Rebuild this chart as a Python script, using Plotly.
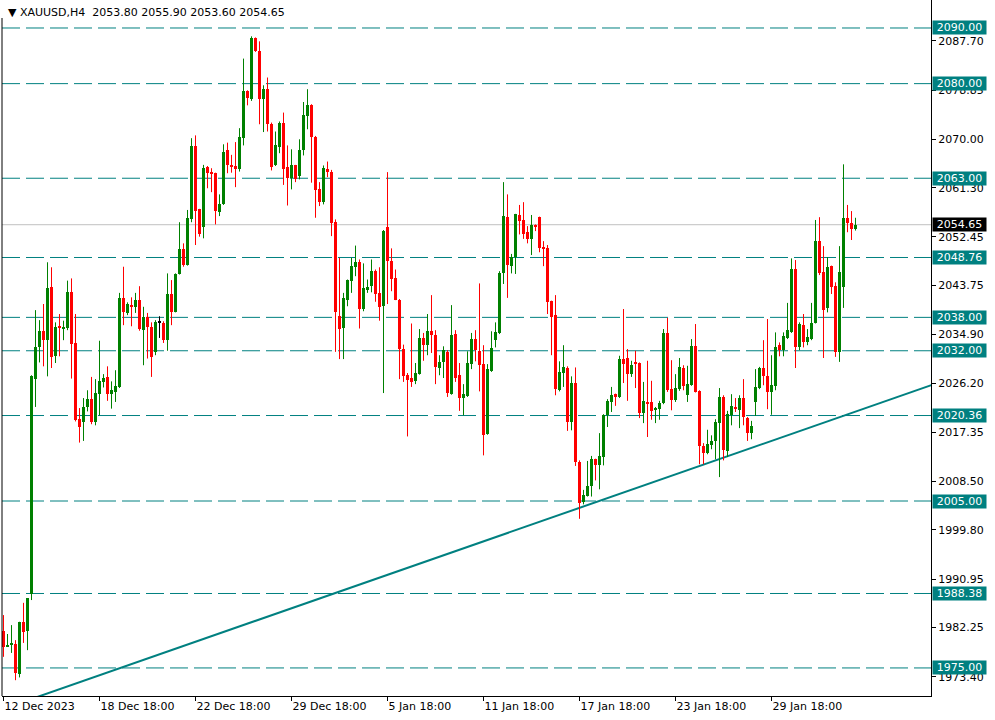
import plotly.graph_objects as go

# ---------------- data (XAUUSD H4) ----------------
opens = [1981.7, 1978.9, 1979.3, 1979.3, 1973.9, 1983.2, 1981.7, 1988.3, 2027.0, 2032.7,
         2035.5, 2034.0, 2043.4, 2031.1, 2036.3, 2036.0, 2036.1, 2042.6, 2033.4, 2019.7,
         2019.2, 2021.9, 2023.3, 2019.2, 2024.3, 2026.4, 2027.3, 2024.3, 2024.6, 2025.5,
         2041.5, 2038.8, 2040.2, 2039.9, 2041.1, 2035.8, 2038.0, 2036.2, 2031.8, 2037.0,
         2037.0, 2033.9, 2042.2, 2039.0, 2045.8, 2050.2, 2047.4, 2055.7, 2068.8, 2057.4,
         2054.3, 2065.0, 2064.2, 2063.9, 2056.9, 2058.3, 2068.0, 2065.4, 2065.2, 2064.6,
         2070.2, 2078.6, 2077.3, 2088.2, 2085.8, 2077.2, 2079.0, 2072.8, 2065.3, 2068.6,
         2072.9, 2065.0, 2063.0, 2065.3, 2063.4, 2068.0, 2074.2, 2076.1, 2070.5, 2061.0,
         2058.7, 2064.6, 2064.2, 2055.1, 2038.2, 2036.1, 2041.2, 2044.5, 2047.1, 2047.9,
         2039.5, 2043.0, 2043.6, 2046.3, 2042.3, 2040.0, 2054.2, 2048.2, 2045.1, 2041.2,
         2032.3, 2027.6, 2027.1, 2026.6, 2027.8, 2034.3, 2033.0, 2035.5, 2034.8, 2028.9,
         2030.0, 2031.8, 2024.2, 2035.0, 2027.6, 2023.5, 2023.8, 2029.6, 2034.1, 2031.9,
         2029.6, 2017.0, 2028.3, 2033.9, 2035.2, 2045.9, 2056.0, 2047.2, 2048.8, 2056.4,
         2055.5, 2053.3, 2052.1, 2054.6, 2056.0, 2050.6, 2050.4, 2040.9, 2038.4, 2024.9,
         2028.0, 2028.9, 2019.2, 2026.2, 2012.0, 2004.9, 2005.9, 2007.7, 2012.5, 2011.4,
         2012.9, 2020.4, 2022.8, 2024.2, 2023.7, 2030.5, 2030.7, 2027.8, 2030.0, 2029.8,
         2020.8, 2022.8, 2022.8, 2021.5, 2021.5, 2022.6, 2035.2, 2025.1, 2023.1, 2025.1,
         2028.9, 2024.0, 2025.8, 2032.8, 2024.8, 2014.9, 2013.6, 2015.0, 2015.8, 2019.0,
         2023.7, 2014.0, 2020.4, 2021.9, 2021.3, 2023.5, 2019.9, 2017.2, 2022.8, 2025.3,
         2028.9, 2027.4, 2024.6, 2025.6, 2033.0, 2032.1, 2034.3, 2035.3, 2046.7, 2032.6,
         2036.6, 2033.5, 2034.1, 2037.0, 2051.7, 2046.1, 2039.7, 2047.2, 2043.6, 2031.7,
         2043.4, 2055.8, 2054.9, 2053.80]
highs = [1984.5, 1981.1, 1982.7, 1980.0, 1983.3, 1986.7, 1987.5, 2027.6, 2039.3, 2037.5,
         2040.4, 2047.9, 2047.0, 2037.1, 2038.6, 2037.4, 2044.6, 2045.0, 2038.6, 2021.7,
         2023.5, 2024.9, 2027.3, 2026.9, 2033.8, 2027.8, 2029.2, 2026.5, 2028.5, 2042.4,
         2047.1, 2040.7, 2041.6, 2042.4, 2043.6, 2039.9, 2038.8, 2037.1, 2037.5, 2038.2,
         2037.3, 2045.9, 2044.7, 2045.9, 2055.1, 2051.3, 2057.3, 2070.2, 2070.7, 2057.5,
         2065.4, 2065.2, 2064.8, 2064.0, 2060.1, 2069.1, 2069.4, 2067.2, 2069.5, 2072.0,
         2084.5, 2078.8, 2088.5, 2088.3, 2087.6, 2079.7, 2081.1, 2073.0, 2071.4, 2073.2,
         2074.8, 2068.9, 2068.2, 2065.4, 2070.0, 2076.7, 2079.0, 2076.3, 2070.6, 2062.3,
         2065.3, 2066.0, 2064.5, 2055.6, 2048.7, 2042.4, 2044.8, 2048.7, 2050.9, 2048.4,
         2047.7, 2044.8, 2048.4, 2046.6, 2047.0, 2053.7, 2064.1, 2050.4, 2046.6, 2041.3,
         2033.1, 2028.0, 2036.9, 2029.8, 2035.9, 2035.2, 2038.6, 2042.0, 2035.7, 2031.2,
         2032.8, 2032.1, 2040.2, 2035.7, 2029.8, 2026.0, 2031.9, 2035.2, 2035.7, 2044.1,
         2033.0, 2029.6, 2035.5, 2037.1, 2046.3, 2062.3, 2060.1, 2049.4, 2056.6, 2058.2,
         2058.7, 2054.4, 2056.4, 2054.7, 2056.1, 2051.7, 2051.0, 2041.0, 2042.0, 2030.1,
         2033.0, 2029.2, 2027.4, 2029.0, 2012.3, 2007.0, 2012.2, 2013.1, 2012.6, 2017.2,
         2020.6, 2023.3, 2025.5, 2024.3, 2031.1, 2039.5, 2032.3, 2030.2, 2032.0, 2029.9,
         2026.4, 2030.2, 2026.6, 2021.9, 2023.0, 2035.9, 2037.9, 2030.3, 2027.8, 2030.7,
         2029.4, 2029.3, 2034.1, 2036.8, 2024.9, 2015.4, 2017.8, 2016.8, 2019.7, 2025.3,
         2024.0, 2021.2, 2024.2, 2023.5, 2024.0, 2026.9, 2020.1, 2019.4, 2028.7, 2029.1,
         2033.9, 2037.7, 2031.2, 2035.3, 2033.5, 2035.3, 2040.6, 2048.6, 2048.3, 2037.1,
         2038.6, 2035.9, 2040.6, 2055.5, 2056.0, 2050.8, 2048.8, 2047.3, 2044.3, 2050.8,
         2065.5, 2058.2, 2057.1, 2055.90]
lows = [1977.0, 1978.8, 1977.7, 1972.8, 1973.3, 1979.5, 1978.2, 1987.2, 2021.9, 2029.9,
        2029.2, 2027.4, 2028.9, 2029.8, 2031.0, 2033.9, 2035.7, 2027.0, 2019.3, 2015.5,
        2015.8, 2021.1, 2018.8, 2018.6, 2020.4, 2025.4, 2023.0, 2021.6, 2022.8, 2025.3,
        2036.6, 2038.4, 2036.4, 2038.8, 2035.6, 2029.4, 2030.6, 2027.3, 2031.2, 2034.3,
        2033.4, 2032.0, 2036.6, 2038.9, 2045.7, 2047.1, 2047.3, 2055.1, 2051.0, 2052.5,
        2052.2, 2061.2, 2060.5, 2054.7, 2056.2, 2058.2, 2063.9, 2064.0, 2061.4, 2064.2,
        2068.9, 2076.1, 2076.9, 2085.7, 2072.7, 2071.3, 2071.4, 2064.4, 2065.2, 2067.5,
        2061.8, 2058.1, 2061.0, 2062.3, 2062.8, 2067.1, 2071.8, 2062.2, 2055.9, 2058.0,
        2058.3, 2063.2, 2052.6, 2031.8, 2030.5, 2030.5, 2040.0, 2042.4, 2045.4, 2036.0,
        2039.1, 2042.4, 2042.5, 2040.8, 2037.4, 2024.4, 2040.4, 2042.7, 2041.1, 2026.9,
        2026.4, 2016.6, 2025.5, 2026.0, 2027.7, 2030.2, 2031.2, 2031.6, 2026.0, 2027.6,
        2027.1, 2023.7, 2024.1, 2026.4, 2021.2, 2020.4, 2023.7, 2028.7, 2030.1, 2024.7,
        2013.2, 2016.9, 2028.2, 2032.6, 2035.0, 2044.0, 2041.5, 2045.9, 2045.8, 2052.9,
        2052.1, 2051.3, 2049.2, 2053.5, 2049.7, 2047.2, 2038.6, 2031.2, 2024.0, 2024.7,
        2025.5, 2017.6, 2017.7, 2011.3, 2001.8, 2004.4, 2005.8, 2005.8, 2008.7, 2007.1,
        2011.4, 2018.3, 2021.0, 2022.1, 2023.5, 2026.2, 2023.0, 2027.3, 2025.3, 2019.9,
        2019.0, 2016.5, 2019.6, 2019.0, 2019.6, 2022.4, 2024.6, 2021.3, 2022.8, 2024.8,
        2024.9, 2022.8, 2025.7, 2024.5, 2011.6, 2011.6, 2013.4, 2014.3, 2012.5, 2009.3,
        2012.3, 2012.9, 2018.6, 2021.0, 2018.1, 2018.6, 2015.8, 2016.1, 2020.3, 2025.1,
        2025.8, 2021.5, 2020.5, 2024.9, 2031.0, 2031.0, 2034.1, 2035.2, 2028.9, 2032.1,
        2032.6, 2033.0, 2033.9, 2036.9, 2045.6, 2030.7, 2038.9, 2042.2, 2030.9, 2030.0,
        2039.7, 2053.3, 2051.9, 2053.60]
closes = [1978.8, 1979.1, 1979.4, 1974.1, 1983.2, 1981.5, 1987.5, 2027.4, 2032.6, 2035.5,
          2034.0, 2043.2, 2030.9, 2036.2, 2036.1, 2036.2, 2042.6, 2033.2, 2019.5, 2018.3,
          2021.9, 2023.3, 2019.2, 2024.4, 2026.5, 2027.1, 2024.3, 2024.9, 2025.6, 2041.5,
          2038.9, 2040.4, 2039.9, 2041.1, 2035.9, 2038.0, 2036.3, 2030.9, 2037.1, 2037.0,
          2033.9, 2042.2, 2039.0, 2045.8, 2050.2, 2047.4, 2055.8, 2068.8, 2057.1, 2053.0,
          2064.8, 2064.0, 2063.7, 2057.1, 2058.3, 2067.8, 2065.4, 2065.0, 2064.7, 2070.4,
          2078.6, 2077.4, 2088.2, 2085.9, 2077.2, 2079.0, 2072.8, 2065.1, 2068.9, 2072.9,
          2064.6, 2063.0, 2065.3, 2062.8, 2068.0, 2074.3, 2076.1, 2070.4, 2060.8, 2058.7,
          2064.8, 2064.1, 2055.0, 2039.0, 2035.9, 2041.4, 2044.7, 2047.2, 2047.9, 2039.5,
          2043.2, 2043.4, 2046.3, 2042.2, 2039.9, 2053.6, 2048.1, 2044.9, 2041.2, 2032.3,
          2027.5, 2026.7, 2026.4, 2028.0, 2034.3, 2033.0, 2035.5, 2034.8, 2029.1, 2030.0,
          2032.1, 2024.4, 2034.8, 2027.1, 2023.5, 2024.2, 2029.8, 2034.1, 2032.1, 2029.4,
          2016.8, 2028.7, 2032.5, 2035.3, 2045.9, 2056.2, 2047.4, 2048.8, 2056.5, 2055.3,
          2052.9, 2052.1, 2054.6, 2054.2, 2050.4, 2050.3, 2040.7, 2038.0, 2025.1, 2028.2,
          2029.0, 2019.2, 2026.2, 2012.0, 2004.7, 2006.1, 2007.7, 2012.5, 2011.4, 2013.1,
          2020.4, 2022.9, 2024.0, 2023.7, 2030.5, 2029.6, 2027.8, 2029.4, 2029.6, 2020.8,
          2023.0, 2022.6, 2021.2, 2021.7, 2022.6, 2035.2, 2024.9, 2023.1, 2025.3, 2029.1,
          2025.7, 2026.0, 2032.8, 2024.6, 2014.9, 2013.6, 2015.2, 2015.8, 2019.2, 2023.7,
          2014.1, 2020.6, 2022.0, 2021.5, 2023.5, 2020.1, 2017.2, 2018.5, 2025.5, 2028.9,
          2027.4, 2024.6, 2025.8, 2032.6, 2032.1, 2034.6, 2035.7, 2046.7, 2032.6, 2036.8,
          2033.5, 2034.4, 2037.0, 2051.7, 2045.9, 2039.3, 2047.0, 2043.4, 2031.7, 2046.1,
          2055.8, 2054.9, 2053.8, 2054.65]

date_ticks = [0, 24, 48, 72, 96, 120, 144, 168, 192]
date_labels = ["12 Dec 2023", "18 Dec 18:00", "22 Dec 18:00", "29 Dec 18:00", "5 Jan 18:00",
               "11 Jan 18:00", "17 Jan 18:00", "23 Jan 18:00", "29 Jan 18:00"]
price_ticks = [2087.70, 2078.85, 2070.00, 2061.30, 2052.45, 2043.75, 2034.90, 2026.20,
               2017.35, 2008.50, 1999.80, 1990.95, 1982.25, 1973.40]
levels = [2090.00, 2080.00, 2063.00, 2048.76, 2038.00, 2032.00, 2020.36, 2005.00, 1988.38, 1975.00]
last_price = 2054.65
trend_bars = [0, 232]
trend_prices = [1967.67, 2025.83]
symbol_title = "XAUUSD,H4"

# ---------------- styling ----------------
GREEN = "#008000"
RED = "#ff0000"
DOJI = "#000000"
TEAL = "#008080"
FONT = "DejaVu Sans"

groups = {GREEN: [], RED: [], DOJI: []}
for i, (o, h, l, c) in enumerate(zip(opens, highs, lows, closes)):
    col = GREEN if c > o else (RED if c < o else DOJI)
    groups[col].append((i, o, h, l, c))

fig = go.Figure()
for col, items in groups.items():
    if not items:
        continue
    wx, wy = [], []
    for (i, o, h, l, c) in items:
        wx += [i, i, None]
        wy += [l, h, None]
    fig.add_trace(go.Scatter(x=wx, y=wy, mode="lines", line=dict(color=col, width=1),
                             hoverinfo="skip", showlegend=False))
    fig.add_trace(go.Bar(
        x=[it[0] for it in items],
        base=[min(it[1], it[4]) for it in items],
        y=[max(abs(it[4] - it[1]), 0.2) for it in items],
        width=0.75, marker=dict(color=col, line=dict(width=0)),
        hoverinfo="skip", showlegend=False))

shapes = []
for lv in levels:
    shapes.append(dict(type="line", xref="paper", x0=0, x1=1, yref="y", y0=lv, y1=lv,
                       line=dict(color=TEAL, width=1, dash="18px,6px"), layer="below"))
shapes.append(dict(type="line", xref="paper", x0=0, x1=1, yref="y", y0=last_price, y1=last_price,
                   line=dict(color="#c0c0c0", width=1), layer="below"))
shapes.append(dict(type="line", xref="x", yref="y", x0=trend_bars[0], y0=trend_prices[0],
                   x1=trend_bars[1], y1=trend_prices[1], line=dict(color=TEAL, width=2), layer="below"))
shapes.append(dict(type="line", xref="paper", yref="paper", x0=0, x1=0, y0=0, y1=1 - 18 / 696,
                   line=dict(color="black", width=1)))

annotations = []
for lv in levels:
    annotations.append(dict(xref="paper", x=1, xanchor="left", xshift=1, yref="y", y=lv,
                            text=f"{lv:.2f}", showarrow=False, bgcolor=TEAL,
                            font=dict(family=FONT, size=11, color="white"),
                            width=53, height=13, align="center", borderpad=0))
annotations.append(dict(xref="paper", x=1, xanchor="left", xshift=1, yref="y", y=last_price,
                        text=f"{last_price:.2f}", showarrow=False, bgcolor="black",
                        font=dict(family=FONT, size=11, color="white"),
                        width=53, height=13, align="center", borderpad=0))
header = ("▼ " + symbol_title + "\u00a0\u00a0" +
          " ".join(f"{v:.2f}" for v in [opens[-1], highs[-1], lows[-1], closes[-1]]))
annotations.append(dict(xref="paper", x=0, xanchor="left", xshift=4, yref="paper", y=1,
                        yanchor="top", yshift=-4, text=header, showarrow=False,
                        font=dict(family=FONT, size=11, color="black")))

fig.update_layout(
    width=995, height=720,
    margin=dict(l=2, r=64, t=0, b=24, pad=0),
    paper_bgcolor="white", plot_bgcolor="white",
    barmode="overlay", bargap=0,
    showlegend=False,
    shapes=shapes, annotations=annotations,
    xaxis=dict(range=[-0.375, 231.875], tickvals=date_ticks, ticktext=date_labels,
               ticks="outside", ticklen=4, tickcolor="black", showline=True,
               linecolor="black", linewidth=1, showgrid=False, zeroline=False,
               ticklabelposition="outside right",
               tickfont=dict(family=FONT, size=11, color="black"), fixedrange=True),
    yaxis=dict(side="right", range=[1969.96, 2095.03], tickvals=price_ticks,
               ticktext=[f"{v:.2f}" for v in price_ticks],
               ticks="outside", ticklen=4, tickcolor="black", showline=True,
               linecolor="black", linewidth=1, showgrid=False, zeroline=False,
               tickfont=dict(family=FONT, size=11, color="black"), fixedrange=True),
)

fig.write_html("out.html", config={"displayModeBar": False},
               post_script="document.body.style.margin='0';document.body.style.overflow='hidden';")
